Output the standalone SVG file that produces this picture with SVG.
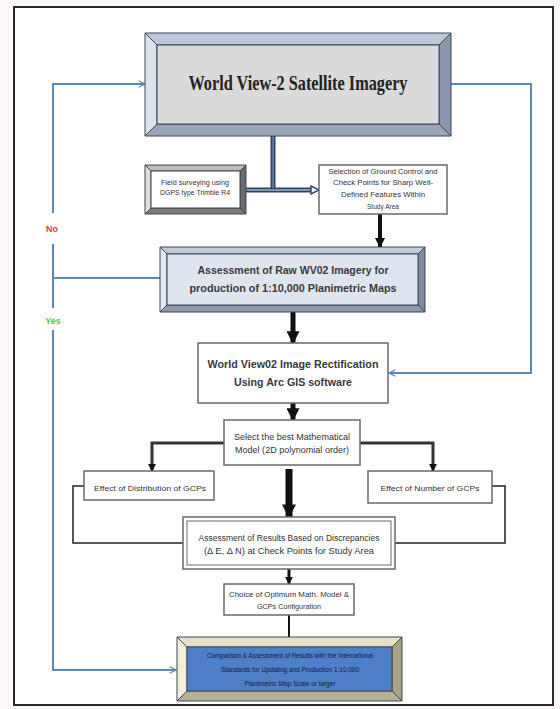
<svg xmlns="http://www.w3.org/2000/svg" width="560" height="709" viewBox="0 0 560 709">
<style>
.t{font-family:"Liberation Sans","Open Sans",sans-serif;fill:#333;text-anchor:middle}
.box{fill:#fff;stroke:#6a6a6a;stroke-width:1.5}
.edge{stroke:#3f4654;stroke-width:1}
.blue{fill:none;stroke:#5b87ba;stroke-width:2}
.blk{fill:none;stroke:#111}
</style>
<defs>
<marker id="ab" viewBox="0 0 10 10" refX="9" refY="5" markerWidth="8" markerHeight="8" markerUnits="userSpaceOnUse" orient="auto"><path d="M1,1 L9,5 L1,9" fill="none" stroke="#5b87ba" stroke-width="1.6"/></marker>
<marker id="ak" viewBox="0 0 10 10" refX="9" refY="5" markerWidth="2.6" markerHeight="2.6" orient="auto"><path d="M0,0 L10,5 L0,10 z" fill="#111"/></marker>
<marker id="ak2" viewBox="0 0 10 10" refX="9" refY="5" markerWidth="2" markerHeight="2" orient="auto"><path d="M0,0 L10,5 L0,10 z" fill="#111"/></marker>
<marker id="an" viewBox="0 0 10 10" refX="9" refY="5" markerWidth="10" markerHeight="10" markerUnits="userSpaceOnUse" orient="auto"><path d="M1,1 L9,5 L1,9 z" fill="#fff" stroke="#2e4566" stroke-width="1.4"/></marker>
</defs>
<rect x="0" y="0" width="560" height="709" fill="#fdf8f8"/>
<rect x="14" y="7" width="539" height="698" fill="#fff" stroke="#2a2a2a" stroke-width="2"/>

<g id="connectors">
<path class="blue" d="M53,213 V84 H145" marker-end="url(#ab)"/>
<path class="blue" d="M160,278 H53 V244"/>
<path class="blue" d="M53,278 V308"/>
<path class="blue" d="M53,330 V670 H176" marker-end="url(#ab)"/>
<path class="blue" d="M451,84 H531 V373 H389" marker-end="url(#ab)"/>
<path d="M273,136 V190" stroke="#2e4566" stroke-width="5" fill="none"/>
<path d="M246,190 H312" stroke="#2e4566" stroke-width="5" fill="none"/>
<path d="M246,190 H312" stroke="#9fb2cf" stroke-width="1.5" fill="none"/>
<path d="M273,136 V188" stroke="#7e94b8" stroke-width="1.2" fill="none"/>
<path d="M308,190 H319" stroke="none" fill="none" marker-end="url(#an)"/>
<path class="blk" d="M380,214 V247" stroke-width="4" marker-end="url(#ak)"/>
<path class="blk" d="M293,312 V343" stroke-width="5" marker-end="url(#ak)"/>
<path class="blk" d="M293,403 V420" stroke-width="5" marker-end="url(#ak)"/>
<path d="M224,443 H152 V471" stroke="#333" stroke-width="3" fill="none" marker-end="url(#ak)"/>
<path d="M360,443 H433 V471" stroke="#333" stroke-width="3" fill="none" marker-end="url(#ak)"/>
<path class="blk" d="M289,469 V517" stroke-width="7" marker-end="url(#ak2)"/>
<path d="M84,486 H73 V543 H183" stroke="#222" stroke-width="1.5" fill="none"/>
<path d="M492,486 H505 V543 H395" stroke="#222" stroke-width="1.5" fill="none"/>
<path class="blk" d="M289,569 V584" stroke-width="3" marker-end="url(#ak)"/>
<path class="blk" d="M289,615 V638" stroke-width="2"/>
</g>

<text x="52" y="232" style="font-family:'Liberation Sans',sans-serif;font-size:9px;font-weight:bold;fill:#e03a3a;text-anchor:middle">No</text>
<text x="53" y="324" style="font-family:'Liberation Sans',sans-serif;font-size:9px;font-weight:bold;fill:#44d044;text-anchor:middle">Yes</text>

<g id="n-wv2">
<polygon points="145,33 451,33 439,45 157,45" fill="#bcc7da" class="edge"/>
<polygon points="145,136 451,136 439,124 157,124" fill="#99a5ba" class="edge"/>
<polygon points="145,33 157,45 157,124 145,136" fill="#dde3ec" class="edge"/>
<polygon points="451,33 439,45 439,124 451,136" fill="#8b97ac" class="edge"/>
<rect x="157" y="45" width="282" height="79" fill="#dadada" class="edge"/>
<text x="298" y="90" textLength="219" lengthAdjust="spacingAndGlyphs" style="font-family:'Liberation Serif',serif;font-size:21px;font-weight:bold;fill:#222;text-anchor:middle">World View-2 Satellite Imagery</text>
</g>

<g id="n-field">
<polygon points="145,165 246,165 240,171 151,171" fill="#bdbdbd" class="edge"/>
<polygon points="145,214 246,214 240,208 151,208" fill="#7a7a7a" class="edge"/>
<polygon points="145,165 151,171 151,208 145,214" fill="#e0e0e0" class="edge"/>
<polygon points="246,165 240,171 240,208 246,214" fill="#6a6a6a" class="edge"/>
<rect x="151" y="171" width="89" height="37" fill="#fff" class="edge"/>
<text class="t" x="195" y="185" style="font-size:6.5px" textLength="68" lengthAdjust="spacingAndGlyphs">Field surveying using</text>
<text class="t" x="195" y="195" style="font-size:6.5px" textLength="70" lengthAdjust="spacingAndGlyphs">DGPS type Trimble R4</text>
</g>

<g id="n-select-gcp">
<rect class="box" x="319" y="165" width="128" height="49"/>
<text class="t" x="383" y="174" style="font-size:6.5px" textLength="109" lengthAdjust="spacingAndGlyphs">Selection of Ground Control and</text>
<text class="t" x="383" y="185" style="font-size:6.5px" textLength="100" lengthAdjust="spacingAndGlyphs">Check Points for Sharp Well-</text>
<text class="t" x="383" y="197" style="font-size:6.5px" textLength="84" lengthAdjust="spacingAndGlyphs">Defined Features Within</text>
<text class="t" x="383" y="209" style="font-size:6.5px" textLength="32" lengthAdjust="spacingAndGlyphs">Study Area</text>
</g>

<g id="n-raw">
<polygon points="160,247 425,247 418,254 167,254" fill="#c0cadb" class="edge"/>
<polygon points="160,312 425,312 418,305 167,305" fill="#8e9ab0" class="edge"/>
<polygon points="160,247 167,254 167,305 160,312" fill="#e5e9f0" class="edge"/>
<polygon points="425,247 418,254 418,305 425,312" fill="#7f8ba0" class="edge"/>
<rect x="167" y="254" width="251" height="51" fill="#dfe5ee" class="edge"/>
<text class="t" x="293" y="274" style="font-size:11px;font-weight:bold;fill:#3a3a3a" textLength="191" lengthAdjust="spacingAndGlyphs">Assessment of Raw WV02 Imagery for</text>
<text class="t" x="293" y="292" style="font-size:11px;font-weight:bold;fill:#3a3a3a" textLength="207" lengthAdjust="spacingAndGlyphs">production of 1:10,000 Planimetric Maps</text>
</g>

<g id="n-rectify">
<rect class="box" x="198" y="343" width="190" height="60"/>
<text class="t" x="293" y="368" style="font-size:11px;font-weight:bold;fill:#3a3a3a" textLength="171" lengthAdjust="spacingAndGlyphs">World View02 Image Rectification</text>
<text class="t" x="293" y="386" style="font-size:11px;font-weight:bold;fill:#3a3a3a" textLength="118" lengthAdjust="spacingAndGlyphs">Using Arc GIS software</text>
</g>

<g id="n-model">
<rect class="box" x="224" y="420" width="136" height="45"/>
<text class="t" x="292" y="440" style="font-size:8.5px" textLength="116" lengthAdjust="spacingAndGlyphs">Select the best Mathematical</text>
<text class="t" x="292" y="453" style="font-size:8.5px" textLength="114" lengthAdjust="spacingAndGlyphs">Model (2D polynomial order)</text>
</g>

<g id="n-dist">
<rect class="box" x="84" y="471" width="130" height="29"/>
<text class="t" x="150" y="491" style="font-size:8px" textLength="112" lengthAdjust="spacingAndGlyphs">Effect of Distribution of GCPs</text>
</g>

<g id="n-number">
<rect class="box" x="368" y="471" width="124" height="32"/>
<text class="t" x="430" y="491" style="font-size:8px" textLength="99" lengthAdjust="spacingAndGlyphs">Effect of Number of GCPs</text>
</g>

<g id="n-results">
<rect class="box" x="183" y="517" width="212" height="52"/>
<rect x="187" y="521" width="204" height="44" fill="none" stroke="#6a6a6a" stroke-width="1"/>
<text class="t" x="289" y="541" style="font-size:8.5px" textLength="181" lengthAdjust="spacingAndGlyphs">Assessment of Results Based on Discrepancies</text>
<text class="t" x="289" y="554" style="font-size:8.5px" textLength="170" lengthAdjust="spacingAndGlyphs">(Δ E, Δ N) at Check Points for Study Area</text>
</g>

<g id="n-choice">
<rect class="box" x="224" y="584" width="130" height="31"/>
<text class="t" x="289" y="597" style="font-size:8px" textLength="120" lengthAdjust="spacingAndGlyphs">Choice of Optimum Math. Model &amp;</text>
<text class="t" x="289" y="609" style="font-size:8px" textLength="64" lengthAdjust="spacingAndGlyphs">GCPs Configuration</text>
</g>

<g id="n-compare">
<polygon points="177,637 402,637 392,647 187,647" fill="#e4e1c8" class="edge"/>
<polygon points="177,701 402,701 392,691 187,691" fill="#b5b196" class="edge"/>
<polygon points="177,637 187,647 187,691 177,701" fill="#f0eedc" class="edge"/>
<polygon points="402,637 392,647 392,691 402,701" fill="#a7a388" class="edge"/>
<rect x="187" y="647" width="205" height="44" fill="#4f7fc7" class="edge"/>
<text class="t" x="290" y="658" style="font-size:7.5px;fill:#0e1c4a" textLength="166" lengthAdjust="spacingAndGlyphs">Comparison &amp; Assessment of Results with the International</text>
<text class="t" x="290" y="672" style="font-size:7.5px;fill:#0e1c4a" textLength="138" lengthAdjust="spacingAndGlyphs">Standards for Updating and Production 1:10,000</text>
<text class="t" x="290" y="686" style="font-size:7.5px;fill:#0e1c4a" textLength="91" lengthAdjust="spacingAndGlyphs">Planimetric Map Scale or larger</text>
</g>
</svg>
